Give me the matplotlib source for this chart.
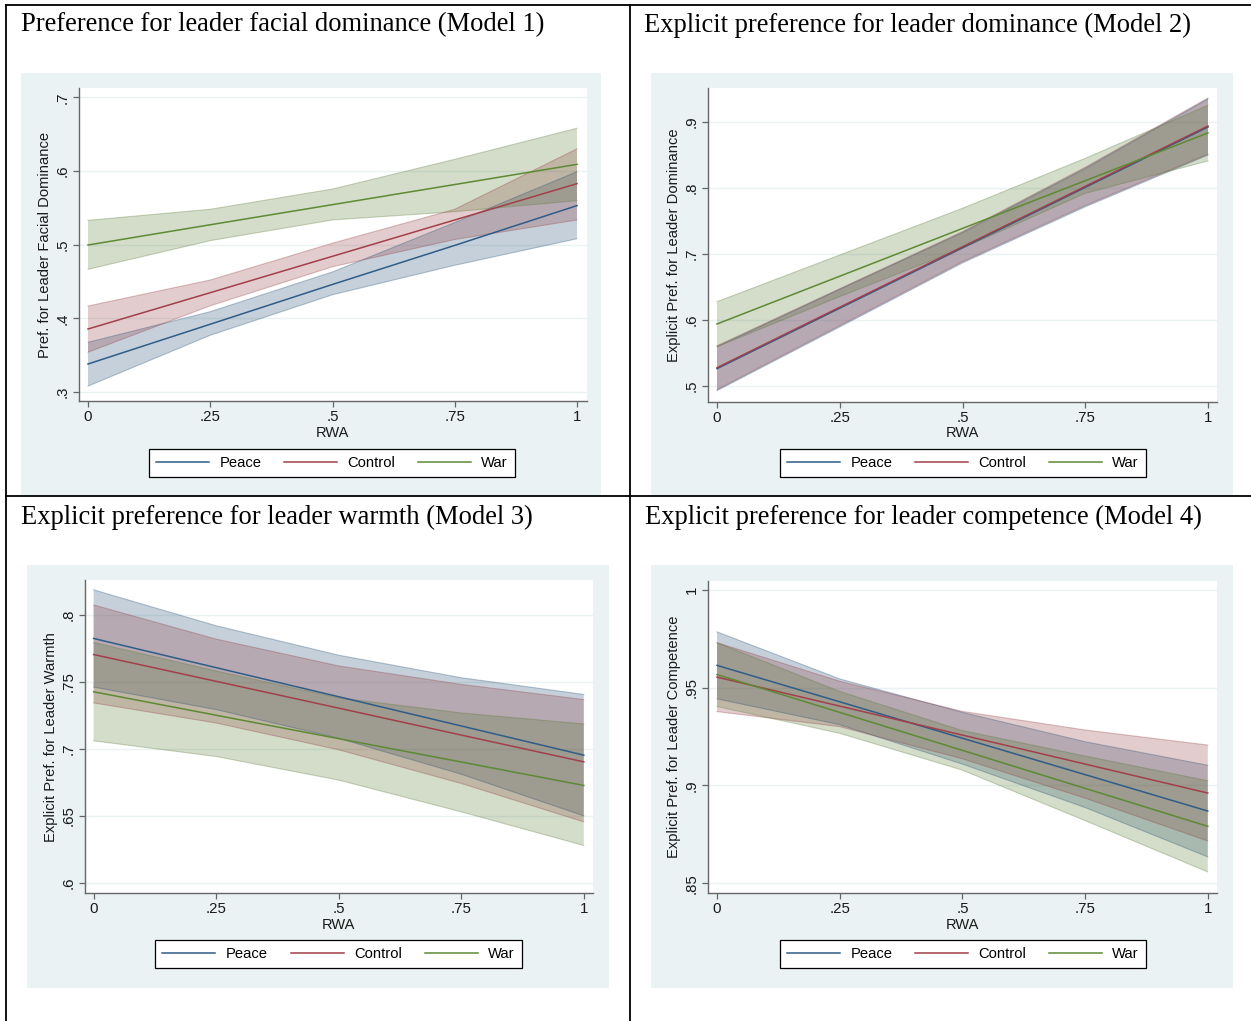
import matplotlib
matplotlib.use("Agg")
import matplotlib.pyplot as plt
from matplotlib.patches import Rectangle
from matplotlib.lines import Line2D

# ---------------- data ----------------
rwa = [0, 0.25, 0.5, 0.75, 1]
xtick_vals = [0, 0.25, 0.5, 0.75, 1]
xtick_labels = ["0", ".25", ".5", ".75", "1"]
groups = ["Peace", "Control", "War"]

titles = [
    "Preference for leader facial dominance (Model 1)",
    "Explicit preference for leader dominance (Model 2)",
    "Explicit preference for leader warmth (Model 3)",
    "Explicit preference for leader competence (Model 4)",
]
ylabels = [
    "Pref. for Leader Facial Dominance",
    "Explicit Pref. for Leader Dominance",
    "Explicit Pref. for Leader Warmth",
    "Explicit Pref. for Leader Competence",
]
yticks_1 = [0.3, 0.4, 0.5, 0.6, 0.7]
yticklabels_1 = [".3", ".4", ".5", ".6", ".7"]
yticks_2 = [0.5, 0.6, 0.7, 0.8, 0.9]
yticklabels_2 = [".5", ".6", ".7", ".8", ".9"]
yticks_3 = [0.6, 0.65, 0.7, 0.75, 0.8]
yticklabels_3 = [".6", ".65", ".7", ".75", ".8"]
yticks_4 = [0.85, 0.9, 0.95, 1.0]
yticklabels_4 = [".85", ".9", ".95", "1"]

# Model 1
m1_peace = [0.338, 0.392, 0.446, 0.499, 0.553]
m1_peace_lo = [0.308, 0.377, 0.432, 0.472, 0.508]
m1_peace_hi = [0.3675, 0.409, 0.463, 0.530, 0.599]
m1_control = [0.3855, 0.4348, 0.4842, 0.5335, 0.5828]
m1_control_lo = [0.354, 0.417, 0.470, 0.507, 0.5335]
m1_control_hi = [0.4167, 0.452, 0.502, 0.548, 0.630]
m1_war = [0.4995, 0.527, 0.5543, 0.5816, 0.609]
m1_war_lo = [0.4665, 0.5054, 0.5335, 0.5447, 0.5597]
m1_war_hi = [0.533, 0.548, 0.5755, 0.6158, 0.658]

# Model 2
m2_peace = [0.5258, 0.6174, 0.7089, 0.8005, 0.892]
m2_peace_lo = [0.4925, 0.589, 0.686, 0.771, 0.8495]
m2_peace_hi = [0.559, 0.646, 0.732, 0.829, 0.9345]
m2_control = [0.5273, 0.6189, 0.7104, 0.802, 0.8935]
m2_control_lo = [0.494, 0.591, 0.688, 0.773, 0.851]
m2_control_hi = [0.5605, 0.647, 0.7335, 0.831, 0.936]
m2_war = [0.5935, 0.6659, 0.7383, 0.8106, 0.883]
m2_war_lo = [0.559, 0.635, 0.7083, 0.7915, 0.8405]
m2_war_hi = [0.6273, 0.698, 0.7688, 0.8445, 0.925]

# Model 3
m3_peace = [0.7825, 0.7607, 0.739, 0.7172, 0.6954]
m3_peace_lo = [0.7462, 0.7294, 0.708, 0.6812, 0.6501]
m3_peace_hi = [0.8188, 0.792, 0.770, 0.7532, 0.7407]
m3_control = [0.7705, 0.7505, 0.7305, 0.7104, 0.6904]
m3_control_lo = [0.7344, 0.7194, 0.6994, 0.6743, 0.6456]
m3_control_hi = [0.8075, 0.782, 0.762, 0.7482, 0.7369]
m3_war = [0.7427, 0.7252, 0.7077, 0.6903, 0.6728]
m3_war_lo = [0.7061, 0.6944, 0.6768, 0.6531, 0.628]
m3_war_hi = [0.7795, 0.7582, 0.7382, 0.7269, 0.7187]

# Model 4
m4_peace = [0.9613, 0.9427, 0.9241, 0.9055, 0.8869]
m4_peace_lo = [0.9442, 0.931, 0.9109, 0.8887, 0.8635]
m4_peace_hi = [0.9784, 0.9544, 0.9373, 0.9223, 0.9103]
m4_control = [0.9553, 0.9405, 0.9257, 0.9109, 0.8961]
m4_control_lo = [0.9377, 0.930, 0.9136, 0.8935, 0.8716]
m4_control_hi = [0.9729, 0.9532, 0.9378, 0.9283, 0.9206]
m4_war = [0.9566, 0.9373, 0.9179, 0.8985, 0.8791]
m4_war_lo = [0.9403, 0.9266, 0.9078, 0.882, 0.8558]
m4_war_hi = [0.9729, 0.948, 0.928, 0.915, 0.9024]

models = [
    [(m1_peace, m1_peace_lo, m1_peace_hi), (m1_control, m1_control_lo, m1_control_hi), (m1_war, m1_war_lo, m1_war_hi)],
    [(m2_peace, m2_peace_lo, m2_peace_hi), (m2_control, m2_control_lo, m2_control_hi), (m2_war, m2_war_lo, m2_war_hi)],
    [(m3_peace, m3_peace_lo, m3_peace_hi), (m3_control, m3_control_lo, m3_control_hi), (m3_war, m3_war_lo, m3_war_hi)],
    [(m4_peace, m4_peace_lo, m4_peace_hi), (m4_control, m4_control_lo, m4_control_hi), (m4_war, m4_war_lo, m4_war_hi)],
]
yticks_all = [yticks_1, yticks_2, yticks_3, yticks_4]
yticklabels_all = [yticklabels_1, yticklabels_2, yticklabels_3, yticklabels_4]

# ---------------- style / layout ----------------
colors = ["#1a476f", "#90353b", "#55752f"]
line_colors = ["#2f5d88", "#a2404a", "#5e8a34"]
BG = "#eaf2f3"
W, H = 1251, 1021
SANS = ["Liberation Sans", "DejaVu Sans"]
SERIF = ["Liberation Serif", "DejaVu Serif"]

panels = [
    dict(gray=(21, 73, 601, 496), ax=(79, 88, 587, 401), xref=(88, 577), yref=(0.3, 392.0, 0.7, 97.3),
         title=(21, 31.5), leg=(150, 450, 514, 476), ylab_x=45, xlab_y=433),
    dict(gray=(651, 73, 1233, 496), ax=(708, 88, 1217, 401.7), xref=(717, 1208), yref=(0.5, 385.7, 0.9, 121.7),
         title=(644, 31.5), leg=(780, 450, 1146, 476), ylab_x=674, xlab_y=433),
    dict(gray=(27, 565, 609, 988), ax=(85, 580, 593, 893.3), xref=(93.6, 583.8), yref=(0.6, 883.0, 0.8, 615.0),
         title=(21, 523.5), leg=(156, 941, 521, 967), ylab_x=51, xlab_y=924.5),
    dict(gray=(651, 565, 1233, 988), ax=(708, 580.6, 1217, 892.7), xref=(717, 1207.8), yref=(0.85, 883.3, 1.0, 589.6),
         title=(645, 523.5), leg=(780, 941, 1146, 967), ylab_x=674, xlab_y=924.5),
]

fig = plt.figure(figsize=(W / 100, H / 100), dpi=100)
fig.patch.set_facecolor("white")


def fx(px):
    return px / W


def fy(py):
    return 1 - py / H


# table borders
for (x0, y0, x1, y1) in [(6, 5, 1251, 5), (6, 5, 6, 1021), (630, 5, 630, 1021), (6, 496, 1251, 496)]:
    fig.add_artist(Line2D([fx(x0), fx(x1)], [fy(y0), fy(y1)], color="black", lw=1.3,
                          transform=fig.transFigure, zorder=10))

for i, p in enumerate(panels):
    gx0, gy0, gx1, gy1 = p["gray"]
    fig.add_artist(Rectangle((fx(gx0), fy(gy1)), fx(gx1 - gx0), (gy1 - gy0) / H,
                             transform=fig.transFigure, facecolor=BG, edgecolor="none", zorder=0))
    ax0, ay0, ax1, ay1 = p["ax"]
    ax = fig.add_axes([fx(ax0), fy(ay1), fx(ax1 - ax0), (ay1 - ay0) / H])
    ax.set_facecolor("white")

    xp0, xp1 = p["xref"]
    ux = (xp1 - xp0)
    ax.set_xlim((ax0 - xp0) / ux, (ax1 - xp0) / ux)
    va_, pa_, vb_, pb_ = p["yref"]
    uy = (pa_ - pb_) / (vb_ - va_)
    ax.set_ylim(va_ - (ay1 - pa_) / uy, vb_ + (pb_ - ay0) / uy)

    for y in yticks_all[i]:
        ax.axhline(y, color=BG, lw=1.0, zorder=0.5)

    handles = []
    for (mid, lo, hi), c in zip(models[i], colors):
        ax.fill_between(rwa, lo, hi, facecolor=c, alpha=0.25, edgecolor="none", zorder=1)
        ax.plot(rwa, lo, color=c, alpha=0.3, lw=0.8, zorder=1.5)
        ax.plot(rwa, hi, color=c, alpha=0.3, lw=0.8, zorder=1.5)
    for (mid, lo, hi), lc, g in zip(models[i], line_colors, groups):
        ln, = ax.plot(rwa, mid, color=lc, lw=1.1, zorder=3, label=g)
        handles.append(ln)

    for s in ["top", "right"]:
        ax.spines[s].set_visible(False)
    for s in ["left", "bottom"]:
        ax.spines[s].set_color("#666666")
        ax.spines[s].set_linewidth(1.0)

    ax.set_xticks(xtick_vals)
    ax.set_xticklabels(xtick_labels, fontsize=10.8, family=SANS, color="#1a1a1a")
    ax.set_yticks(yticks_all[i])
    ax.set_yticklabels(yticklabels_all[i], fontsize=10.8, family=SANS, color="#1a1a1a",
                       rotation=90, va="center")
    ax.tick_params(axis="both", length=4, width=0.9, color="#666666", pad=2.5)

    ax.set_xlabel("RWA", fontsize=10.5, family=SANS, color="#1a1a1a", va="center")
    ax.xaxis.set_label_coords(0.5 * (xp0 + xp1 - 2 * ax0) / (ax1 - ax0), (ay1 - p["xlab_y"]) / (ay1 - ay0))
    ax.set_ylabel(ylabels[i], fontsize=10.6, family=SANS, color="#1a1a1a", va="center")
    ax.yaxis.set_label_coords((p["ylab_x"] - ax0) / (ax1 - ax0), 0.5)

    tx, ty = p["title"]
    fig.text(fx(tx), fy(ty), titles[i], family=SERIF, fontsize=19.1, va="baseline", ha="left", color="black")

    lx0, ly0, lx1, ly1 = p["leg"]
    leg = fig.legend(handles, groups, ncol=3, loc="center",
                     bbox_to_anchor=(fx((lx0 + lx1) / 2), fy((ly0 + ly1) / 2)),
                     frameon=True, fancybox=False, framealpha=1, edgecolor="black",
                     prop=dict(family=SANS, size=10.6), handlelength=3.6, handletextpad=0.7,
                     columnspacing=1.55, borderpad=0.5, borderaxespad=0)
    leg.get_frame().set_linewidth(0.9)

fig.savefig("out.png", dpi=100, facecolor="white")
